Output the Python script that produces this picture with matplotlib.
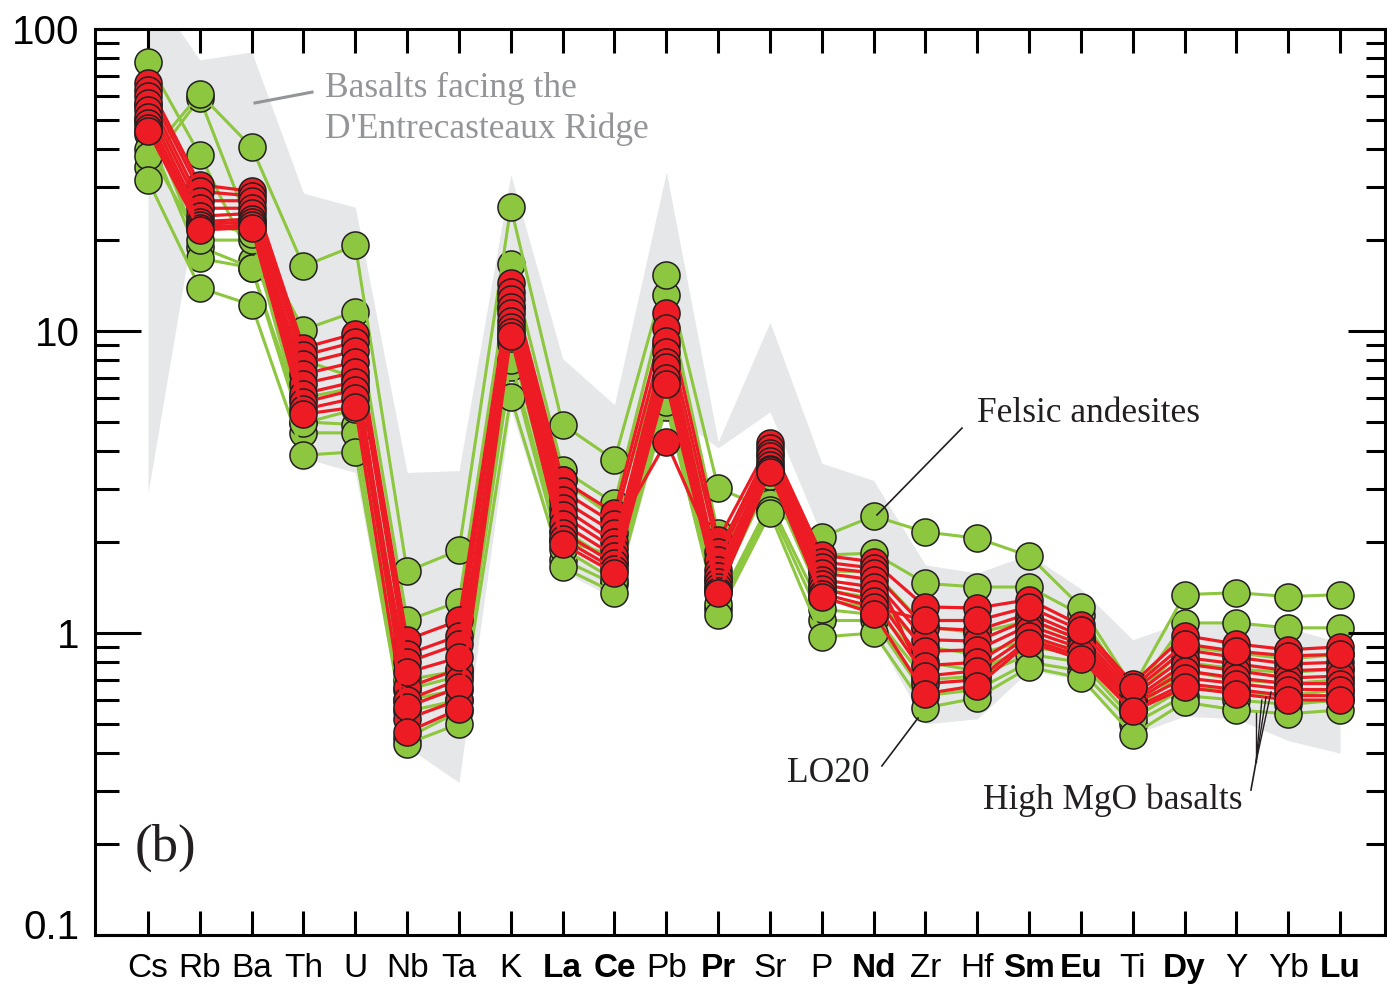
import matplotlib
matplotlib.use('Agg')
import matplotlib.pyplot as plt
import matplotlib.transforms as transforms
from matplotlib.ticker import FixedLocator, LogLocator, NullFormatter
import numpy as np

# element order along the x axis
elements = ['Cs', 'Rb', 'Ba', 'Th', 'U', 'Nb', 'Ta', 'K', 'La', 'Ce', 'Pb', 'Pr',
            'Sr', 'P', 'Nd', 'Zr', 'Hf', 'Sm', 'Eu', 'Ti', 'Dy', 'Y', 'Yb', 'Lu']
bold_elements = ['La', 'Ce', 'Pr', 'Nd', 'Sm', 'Eu', 'Dy', 'Lu']

# envelope of the basalts facing the D'Entrecasteaux Ridge
field_upper = [140, 79, 84, 28.6, 25.7, 3.4, 3.45, 33, 8.1, 5.7, 33.6, 4.3,
               10.7, 3.65, 3.2, 1.68, 1.58, 1.82, 1.4, 0.95, 1.09, 1.08, 1.04, 0.93]
field_lower = [2.9, 30, 22, 3.8, 3.4, 0.42, 0.32, 5.5, 1.6, 1.3, 5.5, 4.1,
               5.4, 2.1, 1.0, 0.5, 0.52, 0.75, 0.7, 0.46, 0.53, 0.52, 0.44, 0.40]

felsic_andesite = [38, 61, 40.6, 16.4, 19.2, 1.6, 1.88, 25.7, 4.9, 3.74, 15.3, 3.02,
                   2.55, 2.08, 2.44, 2.16, 2.06, 1.8, 1.22, 0.66, 1.34, 1.36, 1.32, 1.34]
lo20 = [31.6, 13.9, 12.2, 3.88, 3.98, 0.43, 0.5, 6.05, 1.65, 1.36, 5.8, 1.15,
        2.49, 0.97, 1.0, 0.565, 0.61, 0.77, 0.71, 0.46, 0.59, 0.556, 0.54, 0.556]

green_samples = [
    [35, 59, 21.3, 10.1, 11.6, 1.1, 1.27, 16.7, 3.47, 2.69, 13.2, 2.14,
     2.76, 1.81, 1.84, 1.46, 1.42, 1.42, 1.15, 0.62, 1.08, 1.08, 1.04, 1.04],
    [78, 38.3, 17.2, 8.0, 7.0, 0.7, 0.75, 12.0, 3.2, 2.4, 9.0, 1.9,
     3.0, 1.6, 1.6, 1.05, 1.0, 1.1, 0.95, 0.6, 0.9, 0.86, 0.82, 0.85],
    [50, 19, 16.2, 5.0, 4.9, 0.65, 0.72, 9.1, 2.03, 1.8, 6.6, 1.4,
     3.2, 1.3, 1.2, 0.8, 0.75, 0.9, 0.85, 0.55, 0.75, 0.7, 0.68, 0.7],
    [45, 17.4, 16.2, 4.6, 4.6, 0.45, 0.55, 7.6, 1.75, 1.45, 5.6, 1.2,
     2.6, 1.1, 1.1, 0.62, 0.65, 0.8, 0.75, 0.5, 0.62, 0.6, 0.58, 0.6],
    [40, 20, 20, 4.95, 5.5, 0.55, 0.6, 8.0, 1.9, 1.5, 6.2, 1.25,
     2.7, 1.2, 1.15, 0.7, 0.72, 0.85, 0.8, 0.52, 0.66, 0.64, 0.62, 0.65],
    [56, 23, 21, 6.0, 6.5, 0.6, 0.65, 9.5, 2.2, 1.7, 7.0, 1.5,
     3.3, 1.4, 1.3, 0.9, 0.85, 0.95, 0.88, 0.56, 0.8, 0.76, 0.74, 0.76],
    felsic_andesite,
    lo20,
]

red_samples = [
    [66, 30.5, 29, 8.8, 9.8, 0.95, 1.1, 14.4, 3.2, 2.5, 11.5, 2.03,
     4.26, 1.81, 1.72, 1.22, 1.21, 1.29, 1.06, 0.68, 0.98, 0.92, 0.88, 0.9],
    [63, 29, 28, 8.3, 9.2, 0.85, 0.98, 13.5, 2.95, 2.3, 10.2, 1.85,
     4.1, 1.72, 1.64, 0.68, 0.7, 0.95, 0.84, 0.56, 0.68, 0.65, 0.62, 0.62],
    [60, 27, 27, 7.8, 8.6, 0.8, 0.92, 12.8, 2.75, 2.15, 4.3, 1.75,
     3.95, 1.65, 1.58, 1.04, 1.02, 1.16, 0.98, 0.64, 0.88, 0.83, 0.79, 0.8],
    [57, 25.5, 25.5, 7.2, 7.9, 0.52, 0.6, 12.0, 2.6, 2.0, 9.3, 1.62,
     3.85, 1.58, 1.5, 0.95, 0.94, 1.11, 0.95, 0.62, 0.83, 0.79, 0.75, 0.76],
    [54, 24, 24.5, 6.7, 7.3, 0.66, 0.76, 11.5, 2.45, 1.9, 8.5, 1.55,
     3.7, 1.5, 1.42, 0.87, 0.88, 1.06, 0.92, 0.6, 0.79, 0.75, 0.71, 0.72],
    [51, 23, 23.5, 6.2, 6.8, 0.6, 0.7, 10.8, 2.3, 1.8, 7.9, 1.48,
     3.6, 1.45, 1.35, 0.78, 0.8, 1.02, 0.89, 0.59, 0.75, 0.71, 0.68, 0.68],
    [49, 22.5, 23, 5.8, 6.4, 0.57, 0.66, 10.3, 2.15, 1.7, 7.6, 1.42,
     3.5, 1.4, 1.28, 0.72, 0.75, 0.98, 0.86, 0.58, 0.71, 0.68, 0.65, 0.65],
    [47, 22, 22.5, 5.5, 6.0, 0.74, 0.83, 9.9, 2.05, 1.63, 7.0, 1.38,
     3.47, 1.35, 1.22, 1.1, 1.1, 1.22, 1.02, 0.66, 0.92, 0.87, 0.84, 0.85],
    [46, 21.6, 22, 5.3, 5.6, 0.47, 0.56, 9.6, 1.97, 1.58, 6.7, 1.36,
     3.4, 1.32, 1.16, 0.63, 0.67, 0.93, 0.82, 0.55, 0.66, 0.63, 0.6, 0.6],
]

GREEN = '#8dc63f'
RED = '#ed1c24'
EDGE = '#231f20'
FIELD = '#e6e7e8'
NOTE_GREY = '#939598'
SERIF = 'Liberation Serif'
SANS = 'Liberation Sans'

W, H = 1387, 990
fig = plt.figure(figsize=(W / 100, H / 100), dpi=100)
ax = fig.add_axes([95 / W, 55 / H, 1290 / W, 906 / H])

x = np.arange(len(elements))

ax.fill_between(x, field_lower, field_upper, color=FIELD, lw=0, zorder=0)

for s in green_samples:
    ax.plot(x, s, '-o', color=GREEN, lw=2.2, ms=19.5, mfc=GREEN, mec=EDGE,
            mew=1.1, zorder=2)
for s in red_samples:
    ax.plot(x, s, '-o', color=RED, lw=2.3, ms=19.5, mfc=RED, mec=EDGE,
            mew=1.1, zorder=3)

ax.set_yscale('log')
ax.set_ylim(0.1, 100)
ax.set_xlim(-1.0226, 23.866)

# axes frame and ticks
for sp in ax.spines.values():
    sp.set_linewidth(2.2)
ax.yaxis.set_major_locator(FixedLocator([0.1, 1, 10, 100]))
ax.set_yticklabels(['0.1', '1', '10', '100'], family=SANS, fontsize=29)
ax.yaxis.set_minor_locator(LogLocator(base=10, subs=np.arange(2, 10)))
ax.yaxis.set_minor_formatter(NullFormatter())
ax.tick_params(axis='y', which='major', direction='in', length=33, width=2.2,
               pad=11, left=True, right=False)
ax.tick_params(axis='y', which='minor', direction='in', length=17, width=2.2,
               left=True, right=False)
# nudge the bottom label up a little
lab01 = ax.yaxis.get_major_ticks()[0].label1
lab01.set_transform(lab01.get_transform() +
                    transforms.ScaledTranslation(0, 8 / 72, fig.dpi_scale_trans))

ax.set_xticks(x)
ax.set_xticklabels(elements, family=SANS, fontsize=24)
for lab in ax.get_xticklabels():
    if lab.get_text() in bold_elements:
        lab.set_fontweight('bold')
ax.tick_params(axis='x', direction='in', length=17, width=2.2, pad=13,
               top=True, bottom=True)

ax_r = ax.twinx()
ax_r.set_yscale('log')
ax_r.set_ylim(0.1, 100)
ax_r.yaxis.set_major_locator(FixedLocator([0.1, 1, 10, 100]))
ax_r.yaxis.set_minor_locator(LogLocator(base=10, subs=np.arange(2, 10)))
ax_r.yaxis.set_major_formatter(NullFormatter())
ax_r.yaxis.set_minor_formatter(NullFormatter())
ax_r.tick_params(axis='y', which='major', direction='in', length=27, width=2.2)
ax_r.tick_params(axis='y', which='minor', direction='in', length=14, width=2.2)
for sp in ax_r.spines.values():
    sp.set_visible(False)

# labels and leader lines
ax.text(3.415, 54.3, "Basalts facing the\nD'Entrecasteaux Ridge", family=SERIF,
        fontsize=25.5, color=NOTE_GREY, ha='left', va='center', linespacing=1.3,
        zorder=5)
ax.plot([2.064, 3.164], [56.9, 61.8], color=NOTE_GREY, lw=2.2, zorder=5)

ax.text(15.995, 5.35, 'Felsic andesites', family=SERIF, fontsize=25.5,
        color=EDGE, ha='left', va='center', zorder=5)
ax.plot([14.065, 15.705], [2.46, 4.77], color=EDGE, lw=1.2, zorder=5)

ax.text(13.93, 0.343, 'LO20', family=SERIF, fontsize=25.5, color=EDGE,
        ha='right', va='center', zorder=5)
ax.plot([14.16, 14.856], [0.363, 0.523], color=EDGE, lw=1.2, zorder=5)

ax.text(16.11, 0.279, 'High MgO basalts', family=SERIF, fontsize=25.5,
        color=EDGE, ha='left', va='center', zorder=5)
ax.plot([21.28, 21.378], [0.302, 0.374], color=EDGE, lw=1.2, zorder=5)
for tx, ty in [(21.378, 0.544), (21.49, 0.600), (21.57, 0.614), (21.667, 0.638)]:
    ax.plot([21.378, tx], [0.374, ty], color=EDGE, lw=1.0, zorder=5)

ax.text(-0.25, 0.195, '(b)', family=SERIF, fontsize=38, color=EDGE,
        ha='left', va='center', zorder=5)

fig.savefig('out.png', dpi=100)
